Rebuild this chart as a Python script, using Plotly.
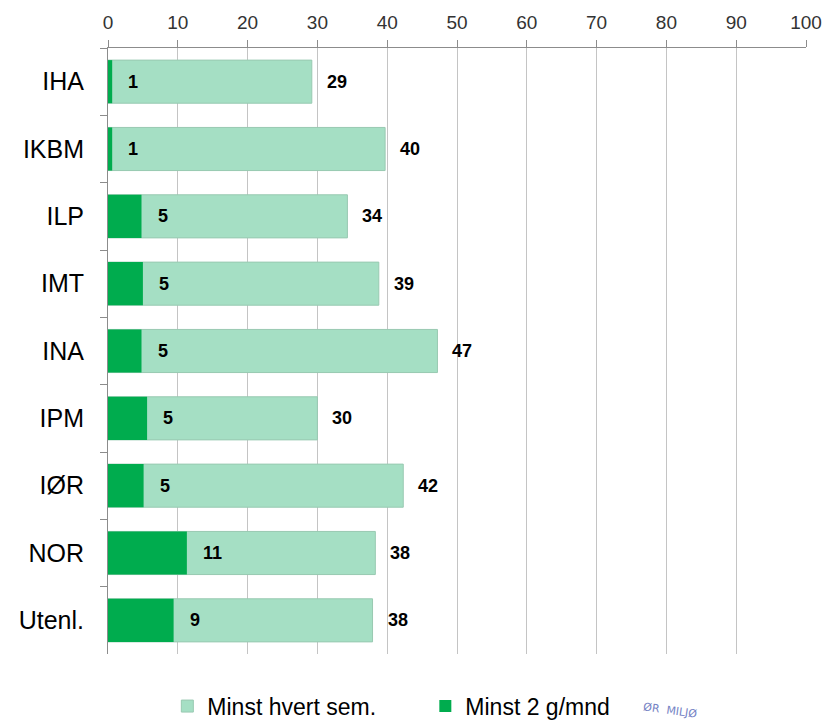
import plotly.graph_objects as go

categories = ["IHA", "IKBM", "ILP", "IMT", "INA", "IPM", "IØR", "NOR", "Utenl."]
hvert_sem = [29.2, 39.7, 34.3, 38.8, 47.2, 30.0, 42.3, 38.3, 37.9]
to_g_mnd = [0.6, 0.6, 4.8, 5.0, 4.8, 5.6, 5.1, 11.3, 9.4]
hvert_sem_labels = ["29", "40", "34", "39", "47", "30", "42", "38", "38"]
to_g_mnd_labels = ["1", "1", "5", "5", "5", "5", "5", "11", "9"]
x_ticks = [0, 10, 20, 30, 40, 50, 60, 70, 80, 90, 100]

LIGHT = "#A5DFC4"
DARK = "#00AC4E"

fig = go.Figure()
fig.add_trace(go.Bar(
    y=categories, x=hvert_sem, orientation="h", name="Minst hvert sem.",
    marker=dict(color=LIGHT, line=dict(color="#98C9B1", width=1)),
    width=0.64, hoverinfo="skip",
))
fig.add_trace(go.Bar(
    y=categories, x=to_g_mnd, orientation="h", name="Minst 2 g/mnd",
    marker=dict(color=DARK, line=dict(width=0)),
    width=0.64, hoverinfo="skip",
))

lab_font = dict(family="Liberation Sans", size=18, color="black")
for c, v, t in zip(categories, hvert_sem, hvert_sem_labels):
    fig.add_annotation(x=v, y=c, text="<b>%s</b>" % t, showarrow=False, xanchor="left",
                       xshift=13, font=lab_font)
for c, v, t in zip(categories, to_g_mnd, to_g_mnd_labels):
    fig.add_annotation(x=v, y=c, text="<b>%s</b>" % t, showarrow=False, xanchor="left",
                       xshift=14, font=lab_font)

# faint stamp fragment in the lower right corner
fig.add_annotation(xref="paper", yref="paper", x=0.805, y=-0.094, text="ØR  MILJØ",
                   showarrow=False, textangle=8, xanchor="center", yanchor="middle",
                   font=dict(family="DejaVu Sans", size=11, color="#7482C4"))

fig.update_layout(
    width=825, height=722,
    barmode="overlay",
    paper_bgcolor="white", plot_bgcolor="white",
    margin=dict(l=108, r=19, t=48, b=68, autoexpand=False),
    font=dict(family="Liberation Sans", color="black"),
    showlegend=True,
    legend=dict(orientation="h", x=0.085, xanchor="left", y=-0.086, yanchor="middle",
                font=dict(size=23, color="black"), entrywidth=213, traceorder="normal",
                itemwidth=30),
    xaxis=dict(side="top", range=[0, 100], tickvals=x_ticks, showgrid=True,
               gridcolor="#C4C4C4", gridwidth=1, zeroline=False, automargin=False,
               showline=True, linecolor="#8C8C8C", linewidth=1,
               ticks="outside", ticklen=7, tickcolor="#8C8C8C",
               ticklabelstandoff=3,
               tickfont=dict(size=19, color="#333333")),
    yaxis=dict(autorange="reversed", showgrid=False, zeroline=False, automargin=False,
               showline=True, linecolor="#8C8C8C", linewidth=1,
               ticks="outside", ticklen=7, tickcolor="#8C8C8C",
               tickson="boundaries", ticklabelstandoff=18,
               tickfont=dict(size=25, color="black")),
)

fig.write_html(
    "out.html",
    config={"displayModeBar": False},
    post_script="document.body.style.margin='0';document.body.style.overflow='hidden';",
)
